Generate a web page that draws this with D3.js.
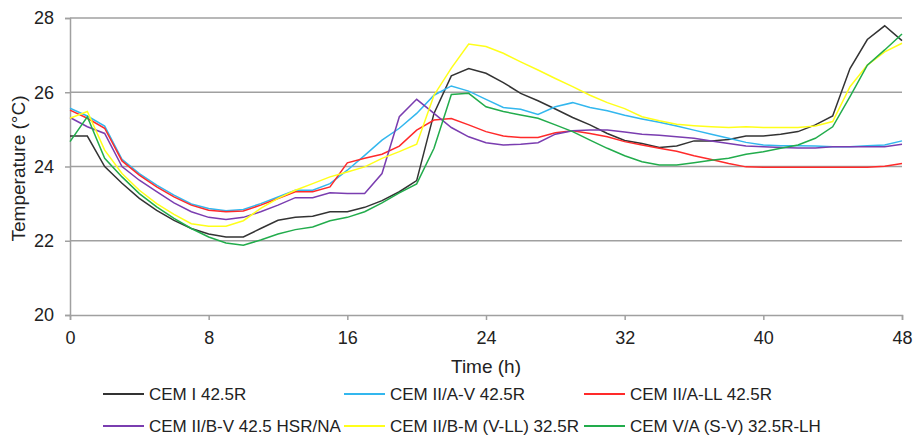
<!DOCTYPE html>
<html>
<head>
<meta charset="utf-8">
<script src="https://cdn.jsdelivr.net/npm/d3@7"></script>
<style>
  body { margin: 0; background: #fff; }
  svg text { font-family: "Liberation Sans", Arial, sans-serif; fill: #222; }
</style>
</head>
<body>
<div id="chart"></div>
<script>
// hours 0..48
var hours = d3.range(0, 49);

var cemI = [24.82,24.82,24.0,23.55,23.14,22.82,22.55,22.33,22.18,22.1,22.1,22.33,22.55,22.63,22.66,22.78,
  22.78,22.9,23.08,23.32,23.62,25.43,26.44,26.64,26.51,26.26,25.97,25.77,25.55,25.32,25.12,24.89,24.7,
  24.62,24.51,24.55,24.69,24.69,24.73,24.82,24.82,24.87,24.94,25.12,25.36,26.64,27.42,27.79,27.39];
var cemIIAV = [25.57,25.36,25.09,24.19,23.81,23.5,23.23,22.99,22.87,22.81,22.84,23.0,23.18,23.36,23.36,23.54,
  23.9,24.3,24.71,25.03,25.43,25.92,26.17,26.03,25.81,25.59,25.54,25.4,25.61,25.72,25.59,25.5,25.38,
  25.28,25.19,25.09,24.98,24.87,24.76,24.65,24.58,24.56,24.56,24.55,24.53,24.53,24.56,24.58,24.69];
var cemIIALL = [25.52,25.3,25.03,24.15,23.77,23.45,23.18,22.96,22.82,22.78,22.8,22.96,23.14,23.32,23.32,23.45,
  24.1,24.22,24.33,24.55,24.98,25.25,25.29,25.12,24.94,24.82,24.78,24.78,24.91,24.96,24.89,24.8,24.67,
  24.58,24.49,24.41,24.29,24.19,24.08,23.99,23.98,23.98,23.98,23.98,23.98,23.98,23.98,24.01,24.08];
var cemIIBV = [25.32,25.07,24.89,24.0,23.63,23.32,23.02,22.78,22.63,22.57,22.63,22.78,22.96,23.16,23.16,23.29,
  23.27,23.27,23.81,25.34,25.81,25.43,25.05,24.8,24.64,24.58,24.6,24.64,24.87,24.96,24.98,24.98,24.93,
  24.87,24.84,24.8,24.76,24.69,24.62,24.55,24.53,24.51,24.5,24.5,24.53,24.53,24.53,24.53,24.6];
var cemIIBM = [25.3,25.48,24.44,23.81,23.36,23.0,22.71,22.46,22.39,22.39,22.54,22.87,23.14,23.36,23.54,23.72,
  23.85,23.99,24.22,24.4,24.6,25.92,26.65,27.3,27.23,27.05,26.82,26.6,26.37,26.15,25.92,25.72,25.56,
  25.34,25.23,25.14,25.1,25.07,25.05,25.07,25.05,25.05,25.05,25.09,25.21,26.15,26.73,27.09,27.32];
var cemVA = [24.67,25.34,24.22,23.72,23.27,22.91,22.6,22.33,22.1,21.94,21.88,22.02,22.18,22.3,22.37,22.54,
  22.63,22.78,23.02,23.29,23.53,24.49,25.94,25.97,25.61,25.48,25.39,25.3,25.12,24.94,24.71,24.49,24.29,
  24.13,24.04,24.04,24.1,24.17,24.22,24.33,24.4,24.49,24.58,24.76,25.07,25.88,26.73,27.14,27.57];

var seriesNames = ["CEM I 42.5R", "CEM II/A-V 42.5R", "CEM II/A-LL 42.5R",
  "CEM II/B-V 42.5 HSR/NA", "CEM II/B-M (V-LL) 32.5R", "CEM V/A (S-V) 32.5R-LH"];
var seriesValues = [cemI, cemIIAV, cemIIALL, cemIIBV, cemIIBM, cemVA];
var seriesColors = ["#333333", "#33b7ee", "#ff2a2a", "#7a3db0", "#ffff1a", "#22ac4c"];

var xTicks = [0, 8, 16, 24, 32, 40, 48];
var yTicks = [20, 22, 24, 26, 28];

var W = 915, H = 437;
var m = {left: 70, right: 13, top: 18, bottom: 122};

var svg = d3.select("#chart").append("svg").attr("width", W).attr("height", H);

var x = d3.scaleLinear().domain([0, 48]).range([m.left, W - m.right]);
var y = d3.scaleLinear().domain([20, 28]).range([H - m.bottom, m.top]);

// grid
svg.append("g").selectAll("line").data(yTicks.filter(function(d){ return d > 20; })).enter()
  .append("line")
  .attr("x1", m.left).attr("x2", W - m.right)
  .attr("y1", function(d){ return y(d); }).attr("y2", function(d){ return y(d); })
  .attr("stroke", "#a0a0a0").attr("stroke-width", 1.5);

// axes
var yAxis = svg.append("g").attr("transform", "translate(" + m.left + ",0)")
  .call(d3.axisLeft(y).tickValues(yTicks).tickSize(5).tickPadding(11).tickFormat(d3.format("d")));
var xAxis = svg.append("g").attr("transform", "translate(0," + y(20) + ")")
  .call(d3.axisBottom(x).tickValues(xTicks).tickSize(5).tickPadding(11).tickFormat(d3.format("d")));

[xAxis, yAxis].forEach(function(a){
  a.select(".domain").attr("stroke", "#a0a0a0").attr("stroke-width", 1.5);
  a.selectAll(".tick line").attr("stroke", "#a0a0a0").attr("stroke-width", 1.5);
  a.selectAll("text").style("font-size", "18px").attr("fill", "#222");
});

// axis titles
svg.append("text").attr("x", (m.left + W - m.right) / 2).attr("y", 373)
  .attr("text-anchor", "middle").style("font-size", "19px").text("Time (h)");
svg.append("text").attr("transform", "translate(25," + ((m.top + y(20)) / 2 + 2) + ") rotate(-90)")
  .attr("text-anchor", "middle").style("font-size", "19px").text("Temperature (°C)");

// lines
var line = d3.line().x(function(d, i){ return x(hours[i]); }).y(function(d){ return y(d); });
svg.append("g").selectAll("path").data(seriesValues).enter()
  .append("path")
  .attr("d", line)
  .attr("fill", "none")
  .attr("stroke", function(d, i){ return seriesColors[i]; })
  .attr("stroke-width", 1.5);

// legend
var legX = [103, 344, 584], legY = [394, 426];
var leg = svg.append("g").selectAll("g").data(seriesNames).enter().append("g")
  .attr("transform", function(d, i){ return "translate(" + legX[i % 3] + "," + legY[Math.floor(i / 3)] + ")"; });
leg.append("line").attr("x1", 0).attr("x2", 41).attr("y1", 0).attr("y2", 0)
  .attr("stroke", function(d, i){ return seriesColors[i]; }).attr("stroke-width", 2);
leg.append("text").attr("x", 46).attr("y", 6).style("font-size", "17px").text(function(d){ return d; });
</script>
</body>
</html>
